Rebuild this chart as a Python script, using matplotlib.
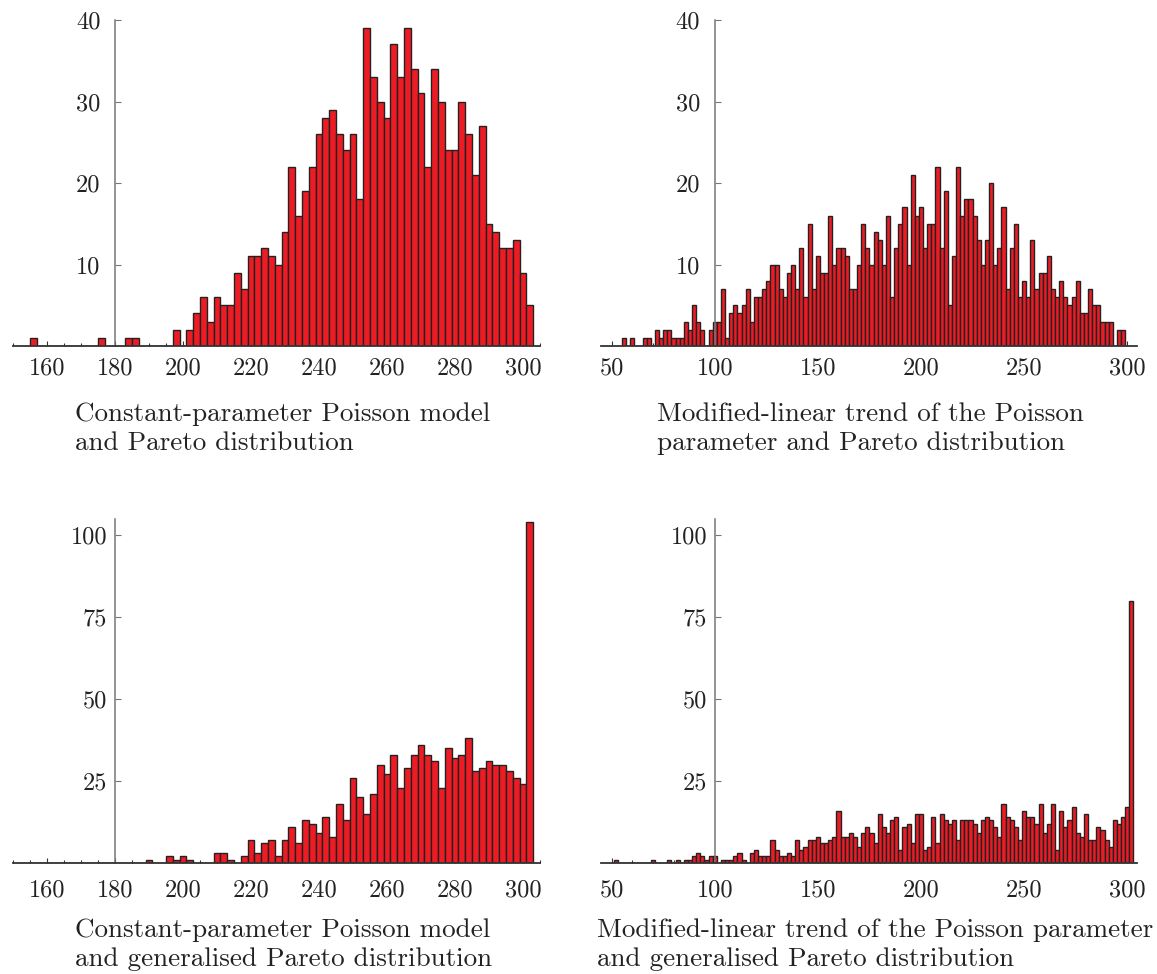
import matplotlib

matplotlib.use("Agg")
import matplotlib.pyplot as plt
import numpy as np
from matplotlib.ticker import MultipleLocator, NullLocator

plt.rcParams["font.family"] = "serif"
plt.rcParams["font.serif"] = ["cmr10", "DejaVu Serif"]
plt.rcParams["mathtext.fontset"] = "cm"
plt.rcParams["axes.unicode_minus"] = False

# counts per bin of width 2
# top-left: constant-parameter Poisson model, Pareto (bins from 155)
const_pareto = [
    1, 0, 0, 0, 0, 0, 0, 0, 0, 0, 1, 0, 0, 0, 1, 1, 0, 0, 0, 0, 0, 2, 0,
    2, 4, 6, 3, 6, 5, 5, 9, 7, 11, 11, 12, 11, 10, 14, 22,
    16, 19, 22, 26, 28, 29, 26, 24, 26, 18, 39, 33, 30, 28, 37, 33, 39, 34,
    31, 22, 34, 30, 24, 24, 30, 26, 21, 27, 15, 14, 12, 12, 13, 9, 5,
]
# top-right: modified-linear trend, Pareto (bins from 55)
trend_pareto = [
    1, 0, 1, 0, 0, 1, 1, 0, 2, 1, 2, 2, 1, 1, 1, 3, 2, 5, 3, 2, 0, 2, 3, 3,
    7, 1, 4, 5, 4, 5, 7, 3, 6, 6, 7, 8, 10, 10, 7, 6, 9, 10, 7, 12, 6, 15,
    7, 11, 9, 9, 16, 10, 12, 12, 11, 7, 7, 10, 15, 12, 10, 14, 13, 10, 16, 6,
    12, 15, 17, 10, 21, 16, 17, 12, 15, 15, 22, 12, 19, 5, 11, 22, 16, 18, 18,
    16, 13, 10, 13, 20, 10, 12, 17, 7, 12, 15, 6, 8, 6, 13, 7, 9, 9, 11, 7,
    6, 8, 6, 5, 6, 8, 4, 4, 7, 5, 5, 3, 3, 3, 0, 2, 2,
]
# bottom-left: constant-parameter Poisson model, generalised Pareto (bins from 155)
const_gpd = [
    0, 0, 0, 0, 0, 0, 0, 0, 0, 0, 0, 0, 0, 0, 0, 0, 0, 1, 0, 0, 2, 1, 2, 1,
    0, 0, 0, 3, 3, 1, 0, 2, 7, 3, 6, 7, 2, 7, 11, 6, 13, 12, 9, 14, 8, 18,
    13, 26, 20, 15, 21, 30, 27, 33, 23, 29, 33, 36, 33, 31, 23, 35, 32, 33,
    38, 28, 29, 31, 30, 30, 28, 26, 24, 104,
]
# bottom-right: modified-linear trend, generalised Pareto (bins from 51)
trend_gpd = [
    1, 0, 0, 0, 0, 0, 0, 0, 0, 1, 0, 0, 0, 1, 0, 1, 0, 1, 1, 2, 3, 2, 1, 2,
    2, 0, 1, 1, 1, 2, 3, 1, 0, 3, 4, 2, 2, 2, 7, 4, 2, 2, 3, 2, 7, 4, 5, 7,
    7, 8, 6, 6, 7, 8, 16, 8, 8, 9, 8, 5, 9, 11, 9, 6, 15, 11, 9, 13, 14, 4,
    11, 12, 6, 15, 15, 4, 5, 14, 6, 15, 13, 12, 13, 7, 13, 13, 13, 12, 9, 13,
    14, 13, 11, 8, 18, 14, 13, 11, 7, 16, 14, 14, 12, 18, 9, 12, 18, 4, 16,
    11, 13, 17, 9, 8, 15, 7, 7, 11, 10, 7, 5, 13, 12, 14, 17, 80,
]

captions = [
    ["Constant-parameter Poisson model", "and Pareto distribution"],
    ["Modified-linear trend of the Poisson", "parameter and Pareto distribution"],
    ["Constant-parameter Poisson model", "and generalised Pareto distribution"],
    ["Modified-linear trend of the Poisson parameter", "and generalised Pareto distribution"],
]

W, H = 1157, 974
BAR = "#ED1C24"
EDGE = "#222222"
YAXIS = "#777777"
XAXIS = "#333333"
TEXT = "#222222"


def add_axes_px(fig, left, top, right, bottom):
    return fig.add_axes([left / W, 1 - bottom / H, (right - left) / W, (bottom - top) / H])


def panel(ax, counts, start, xlim, ylim, y_at, xmaj, xmin, ymaj, xpad, ypad):
    edges = start + 2 * np.arange(len(counts))
    ax.bar(edges, counts, width=2, align="edge", color=BAR, edgecolor=EDGE,
           linewidth=1.0, zorder=2)
    ax.set_xlim(*xlim)
    ax.set_ylim(*ylim)
    for side in ("top", "right"):
        ax.spines[side].set_visible(False)
    ax.spines["left"].set_position(("data", y_at))
    ax.spines["left"].set_color(YAXIS)
    ax.spines["left"].set_linewidth(1.1)
    ax.spines["bottom"].set_color(XAXIS)
    ax.spines["bottom"].set_linewidth(1.3)
    ax.patch.set_visible(False)
    ax.xaxis.set_major_locator(MultipleLocator(xmaj))
    ax.xaxis.set_minor_locator(MultipleLocator(xmin))
    ax.yaxis.set_major_locator(MultipleLocator(ymaj))
    ax.yaxis.set_minor_locator(NullLocator())
    ax.tick_params(which="both", direction="in", color=XAXIS, width=0.8,
                   labelsize=17.5, labelcolor=TEXT)
    ax.tick_params(axis="x", which="major", length=3.5, pad=xpad)
    ax.tick_params(axis="x", which="minor", length=2.5)
    ax.tick_params(axis="y", length=4, color=YAXIS, pad=ypad)
    ax.set_yticks([t for t in np.arange(ymaj, ylim[1] + 0.1, ymaj)])
    ax.set_xticks([t for t in np.arange(0, 400, xmaj) if xlim[0] <= t <= xlim[1]])


fig = plt.figure(figsize=(W / 100, H / 100), dpi=100)

# pixel frames: left panels 160 at 47 px, 3.4 px/unit; right panels 50 at 611 px, 2.064 px/unit
ax1 = add_axes_px(fig, 13, 20, 540, 346)
panel(ax1, const_pareto, 155, (150, 305), (0, 40), 180, 20, 5, 10, 8, 10.5)
ax2 = add_axes_px(fig, 600.7, 20, 1137, 346)
panel(ax2, trend_pareto, 55, (44.7, 304.7), (0, 40), 100, 50, 10, 10, 8, 10.5)
ax3 = add_axes_px(fig, 13, 518.6, 540, 863)
panel(ax3, const_gpd, 155, (150, 305), (0, 105), 180, 20, 5, 25, 12, 5.5)
ax4 = add_axes_px(fig, 600.7, 518.6, 1137, 863)
panel(ax4, trend_gpd, 51, (44.7, 304.7), (0, 105), 100, 50, 10, 25, 12, 5.5)

# caption baselines in px
cap_pos = [(75, 420.7), (657, 420.7), (75, 936.5), (597, 936.5)]
for (cx, cy), lines in zip(cap_pos, captions):
    for i, line in enumerate(lines):
        fig.text(cx / W, 1 - (cy + 29.3 * i) / H, line, ha="left", va="baseline",
                 fontsize=19.5, color=TEXT)

fig.savefig("out.png", dpi=100)
